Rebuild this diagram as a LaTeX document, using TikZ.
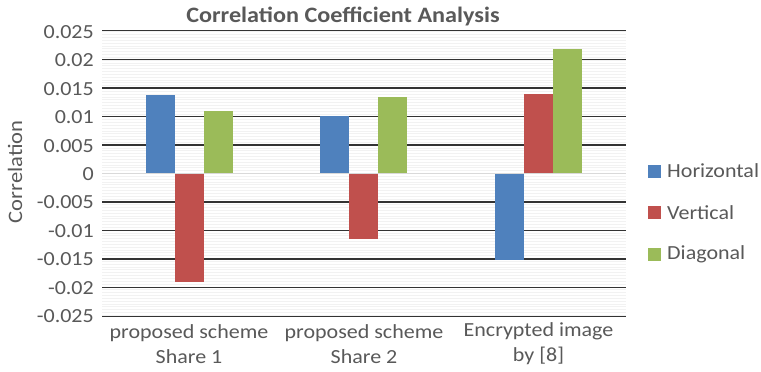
\documentclass[tikz,border=0pt]{standalone}
\usepackage{fontspec}
\setmainfont[FakeStretch=1.1]{Carlito}
\definecolor{txt}{HTML}{595959}
\definecolor{hbar}{HTML}{4F81BD}
\definecolor{vbar}{HTML}{C0504D}
\definecolor{dbar}{HTML}{9BBB59}
\definecolor{minorgrid}{HTML}{F2F2F2}
\definecolor{majorgrid}{HTML}{333333}
\definecolor{zeroaxis}{HTML}{D9D9D9}
\begin{document}
\begin{tikzpicture}[x=1pt,y=-1pt,
  ticklab/.style={anchor=east,text=txt,font=\fontsize{20}{20}\selectfont,inner sep=0pt},
  catlab/.style={align=center,text=txt,font=\fontsize{20}{25}\selectfont,inner sep=0pt},
  leglab/.style={anchor=west,text=txt,font=\fontsize{20}{20}\selectfont,inner sep=0pt}]
\useasboundingbox (0,0) rectangle (761,372);
\fill[white] (0,0) rectangle (761,372);
% value -> pixel: y = 173.5 - v*5710
% minor gridlines every 0.0005
\foreach \k in {0,...,100}{
  \draw[minorgrid,line width=0.8pt] (102,{31.75+\k*2.835}) -- (626,{31.75+\k*2.835});
}
% one bar: x, from value, to value, colour
\newcommand{\barat}[4]{\fill[#4] (#1,{173.5-(#2)*5710}) rectangle (#1+29,{173.5-(#3)*5710});}
% major gridlines
\foreach \v in {-0.025,-0.02,-0.015,-0.01,-0.005,0.005,0.01,0.015,0.02,0.025}{
  \draw[majorgrid,line width=1.4pt] (102,{173.5-\v*5710}) -- (626,{173.5-\v*5710});
}
% bars drawn over the gridlines
\barat{145.5}{0}{0.0137}{hbar}
\barat{174.5}{0}{-0.0190}{vbar}
\barat{203.5}{0}{0.0109}{dbar}
\barat{320}{0}{0.0100}{hbar}
\barat{349}{0}{-0.0115}{vbar}
\barat{378}{0}{0.0134}{dbar}
\barat{495}{0}{-0.0152}{hbar}
\barat{524}{0}{0.0139}{vbar}
\barat{553}{0}{0.0218}{dbar}
% zero axis line
\draw[zeroaxis,line width=1.6pt] (102,173.5) -- (626,173.5);
% tick labels
\node[ticklab] (t1) at (94,31.75) {0.025};
\node[ticklab] (t2) at (94,60.3) {0.02};
\node[ticklab] (t3) at (94,88.85) {0.015};
\node[ticklab] (t4) at (94,117.4) {0.01};
\node[ticklab] (t5) at (94,145.95) {0.005};
\node[ticklab] (t6) at (94,174.5) {0};
\node[ticklab] (t7) at (94,202.05) {-0.005};
\node[ticklab] (t8) at (94,230.6) {-0.01};
\node[ticklab] (t9) at (94,259.15) {-0.015};
\node[ticklab] (t10) at (94,287.7) {-0.02};
\node[ticklab] (t11) at (94,316.25) {-0.025};
% axis title
\node[rotate=90,text=txt,font=\fontsize{20.5}{20.5}\selectfont,inner sep=0pt] (ylab) at (15,172) {Correlation};
% chart title
\node[text=txt,font=\bfseries\fontsize{22}{22}\selectfont,inner sep=0pt] (title) at (343,16.5) {Correlation Coefficient Analysis};
% category labels
\node[catlab] (c1) at (189,344) {proposed scheme\\Share 1};
\node[catlab] (c2) at (364,344) {proposed scheme\\Share 2};
\node[catlab] (c3) at (538.5,344) {Encrypted image\\by [8]};
% legend
\fill[hbar] (648,164.5) rectangle (661,177.5);
\node[leglab] (l1) at (667,171) {Horizontal};
\fill[vbar] (648,206) rectangle (661,219);
\node[leglab] (l2) at (667,212.5) {Vertical};
\fill[dbar] (648,247.5) rectangle (661,260.5);
\node[leglab] (l3) at (667,254) {Diagonal};
\end{tikzpicture}
\end{document}
